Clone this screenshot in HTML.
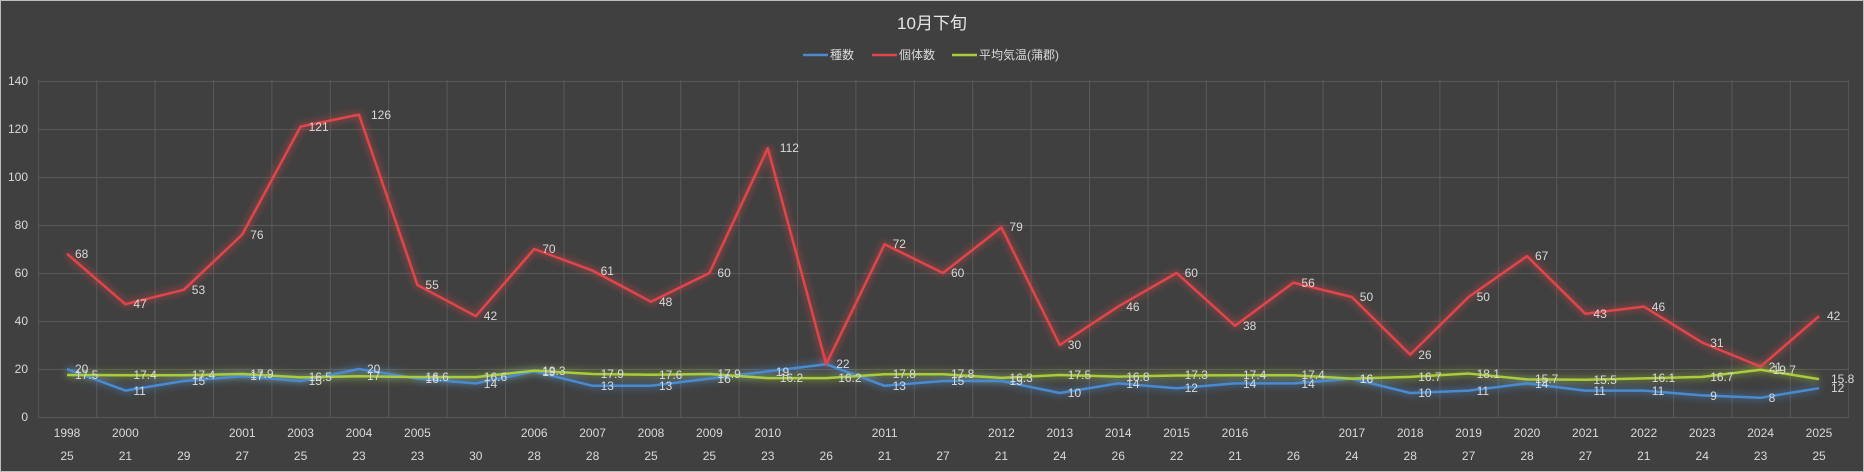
<!DOCTYPE html>
<html><head><meta charset="utf-8"><style>
html,body{margin:0;padding:0;background:#404040;}
svg{display:block;font-family:"Liberation Sans","Noto Sans CJK JP",sans-serif;}
</style></head><body>
<svg width="1864" height="472" viewBox="0 0 1864 472" xmlns="http://www.w3.org/2000/svg">
<defs>
<pattern id="vg" x="37.8" y="0" width="58.4" height="472" patternUnits="userSpaceOnUse"><line x1="0.5" y1="0" x2="0.5" y2="472" stroke="#595959" stroke-width="1"/></pattern>
<filter id="glow" x="-5%" y="-20%" width="110%" height="140%"><feGaussianBlur stdDeviation="4" result="b"/><feMerge><feMergeNode in="b"/><feMergeNode in="SourceGraphic"/></feMerge></filter>
</defs>
<rect x="0.5" y="0.5" width="1863" height="471" fill="#404040" stroke="#bdbdbd"/>
<text x="932" y="29" fill="#e6e6e6" font-size="17" text-anchor="middle">10月下旬</text>
<g font-size="12" fill="#d9d9d9">
<line x1="803" y1="55" x2="828" y2="55" stroke="#4a8ad0" stroke-width="2.5"/><text x="830" y="59">種数</text>
<line x1="872" y1="55" x2="897" y2="55" stroke="#e0454a" stroke-width="2.5"/><text x="899" y="59">個体数</text>
<line x1="952" y1="55" x2="977" y2="55" stroke="#a8cc3a" stroke-width="2.5"/><text x="979" y="59">平均気温(蒲郡)</text>
</g>
<rect x="38" y="80" width="1811" height="337" fill="url(#vg)"/>
<g stroke="#595959" stroke-width="1">
<line x1="38" y1="81.5" x2="1849" y2="81.5"/><line x1="38" y1="129.5" x2="1849" y2="129.5"/><line x1="38" y1="177.5" x2="1849" y2="177.5"/><line x1="38" y1="225.5" x2="1849" y2="225.5"/><line x1="38" y1="273.5" x2="1849" y2="273.5"/><line x1="38" y1="321.5" x2="1849" y2="321.5"/><line x1="38" y1="369.5" x2="1849" y2="369.5"/><line x1="38" y1="417.5" x2="1849" y2="417.5"/>
</g>
<g font-size="12" fill="#d9d9d9" text-anchor="end">
<text x="28" y="85">140</text><text x="28" y="133">120</text><text x="28" y="181">100</text><text x="28" y="229">80</text><text x="28" y="277">60</text><text x="28" y="325">40</text><text x="28" y="373">20</text><text x="28" y="421">0</text>
</g>
<g font-size="12" fill="#d9d9d9" text-anchor="middle">
<text x="67" y="437">1998</text><text x="125.4" y="437">2000</text><text x="242.2" y="437">2001</text><text x="300.6" y="437">2003</text><text x="359" y="437">2004</text><text x="417.4" y="437">2005</text><text x="534.2" y="437">2006</text><text x="592.6" y="437">2007</text><text x="651" y="437">2008</text><text x="709.4" y="437">2009</text><text x="767.8" y="437">2010</text><text x="884.6" y="437">2011</text><text x="1001.4" y="437">2012</text><text x="1059.8" y="437">2013</text><text x="1118.2" y="437">2014</text><text x="1176.6" y="437">2015</text><text x="1235" y="437">2016</text><text x="1351.8" y="437">2017</text><text x="1410.2" y="437">2018</text><text x="1468.6" y="437">2019</text><text x="1527" y="437">2020</text><text x="1585.4" y="437">2021</text><text x="1643.8" y="437">2022</text><text x="1702.2" y="437">2023</text><text x="1760.6" y="437">2024</text><text x="1819" y="437">2025</text>
<text x="67" y="460">25</text><text x="125.4" y="460">21</text><text x="183.8" y="460">29</text><text x="242.2" y="460">27</text><text x="300.6" y="460">25</text><text x="359" y="460">23</text><text x="417.4" y="460">23</text><text x="475.8" y="460">30</text><text x="534.2" y="460">28</text><text x="592.6" y="460">28</text><text x="651" y="460">25</text><text x="709.4" y="460">25</text><text x="767.8" y="460">23</text><text x="826.2" y="460">26</text><text x="884.6" y="460">21</text><text x="943" y="460">27</text><text x="1001.4" y="460">21</text><text x="1059.8" y="460">24</text><text x="1118.2" y="460">26</text><text x="1176.6" y="460">22</text><text x="1235" y="460">21</text><text x="1293.4" y="460">26</text><text x="1351.8" y="460">24</text><text x="1410.2" y="460">28</text><text x="1468.6" y="460">27</text><text x="1527" y="460">28</text><text x="1585.4" y="460">27</text><text x="1643.8" y="460">21</text><text x="1702.2" y="460">24</text><text x="1760.6" y="460">23</text><text x="1819" y="460">25</text>
</g>
<g fill="none" stroke-width="2.5" stroke-linejoin="round" filter="url(#glow)">
<polyline stroke="#4a8ad0" points="67,369 125.4,390.6 183.8,381 242.2,376.2 300.6,381 359,369 417.4,378.6 475.8,383.4 534.2,371.4 592.6,385.8 651,385.8 709.4,378.6 767.8,371.4 826.2,364.2 884.6,385.8 943,381 1001.4,381 1059.8,393 1118.2,383.4 1176.6,388.2 1235,383.4 1293.4,383.4 1351.8,378.6 1410.2,393 1468.6,390.6 1527,383.4 1585.4,390.6 1643.8,390.6 1702.2,395.4 1760.6,397.8 1819,388.2"/>
<polyline stroke="#e0454a" points="67,253.8 125.4,304.2 183.8,289.8 242.2,234.6 300.6,126.6 359,114.6 417.4,285 475.8,316.2 534.2,249 592.6,270.6 651,301.8 709.4,273 767.8,148.2 826.2,364.2 884.6,244.2 943,273 1001.4,227.4 1059.8,345 1118.2,306.6 1176.6,273 1235,325.8 1293.4,282.6 1351.8,297 1410.2,354.6 1468.6,297 1527,256.2 1585.4,313.8 1643.8,306.6 1702.2,342.6 1760.6,366.6 1819,316.2"/>
<polyline stroke="#a8cc3a" points="67,375 125.4,375.24 183.8,375.24 242.2,374.04 300.6,377.4 359,376.2 417.4,377.16 475.8,377.16 534.2,370.68 592.6,374.04 651,374.76 709.4,374.04 767.8,378.12 826.2,378.12 884.6,374.28 943,374.28 1001.4,377.88 1059.8,375 1118.2,376.68 1176.6,375.48 1235,375.24 1293.4,375.24 1351.8,378.6 1410.2,376.92 1468.6,373.56 1527,379.32 1585.4,379.8 1643.8,378.36 1702.2,376.92 1760.6,369.72 1819,379.08"/>
</g>
<g font-size="12" fill="#d9d9d9">
<text x="75" y="258">68</text><text x="133.4" y="308">47</text><text x="191.8" y="294">53</text><text x="250.2" y="239">76</text><text x="308.6" y="131">121</text><text x="371" y="119">126</text><text x="425.4" y="289">55</text><text x="483.8" y="320">42</text><text x="542.2" y="253">70</text><text x="600.6" y="275">61</text><text x="659" y="306">48</text><text x="717.4" y="277">60</text><text x="779.8" y="152">112</text><text x="836.2" y="368">22</text><text x="892.6" y="248">72</text><text x="951" y="277">60</text><text x="1009.4" y="231">79</text><text x="1067.8" y="349">30</text><text x="1126.2" y="311">46</text><text x="1184.6" y="277">60</text><text x="1243" y="330">38</text><text x="1301.4" y="287">56</text><text x="1359.8" y="301">50</text><text x="1418.2" y="359">26</text><text x="1476.6" y="301">50</text><text x="1535" y="260">67</text><text x="1593.4" y="318">43</text><text x="1651.8" y="311">46</text><text x="1710.2" y="347">31</text><text x="1768.6" y="371">21</text><text x="1827" y="320">42</text>
<text x="75" y="373">20</text><text x="133.4" y="395">11</text><text x="191.8" y="385">15</text><text x="250.2" y="380">17</text><text x="308.6" y="385">15</text><text x="367" y="373">20</text><text x="425.4" y="383">16</text><text x="483.8" y="388">14</text><text x="542.2" y="376">19</text><text x="600.6" y="390">13</text><text x="659" y="390">13</text><text x="717.4" y="383">16</text><text x="775.8" y="376">19</text><text x="892.6" y="390">13</text><text x="951" y="385">15</text><text x="1009.4" y="385">15</text><text x="1067.8" y="397">10</text><text x="1126.2" y="388">14</text><text x="1184.6" y="392">12</text><text x="1243" y="388">14</text><text x="1301.4" y="388">14</text><text x="1359.8" y="383">16</text><text x="1418.2" y="397">10</text><text x="1476.6" y="395">11</text><text x="1535" y="388">14</text><text x="1593.4" y="395">11</text><text x="1651.8" y="395">11</text><text x="1710.2" y="400">9</text><text x="1768.6" y="402">8</text><text x="1831" y="392">12</text>
<text x="75" y="379">17.5</text><text x="133.4" y="379">17.4</text><text x="191.8" y="379">17.4</text><text x="250.2" y="378">17.9</text><text x="308.6" y="381">16.5</text><text x="367" y="380">17</text><text x="425.4" y="381">16.6</text><text x="483.8" y="381">16.6</text><text x="542.2" y="375">19.3</text><text x="600.6" y="378">17.9</text><text x="659" y="379">17.6</text><text x="717.4" y="378">17.9</text><text x="779.8" y="382">16.2</text><text x="838.2" y="382">16.2</text><text x="892.6" y="378">17.8</text><text x="951" y="378">17.8</text><text x="1009.4" y="382">16.3</text><text x="1067.8" y="379">17.5</text><text x="1126.2" y="381">16.8</text><text x="1184.6" y="379">17.3</text><text x="1243" y="379">17.4</text><text x="1301.4" y="379">17.4</text><text x="1359.8" y="383">16</text><text x="1418.2" y="381">16.7</text><text x="1476.6" y="378">18.1</text><text x="1535" y="383">15.7</text><text x="1593.4" y="384">15.5</text><text x="1651.8" y="382">16.1</text><text x="1710.2" y="381">16.7</text><text x="1772.6" y="374">19.7</text><text x="1831" y="383">15.8</text>
</g>
</svg>
</body></html>
